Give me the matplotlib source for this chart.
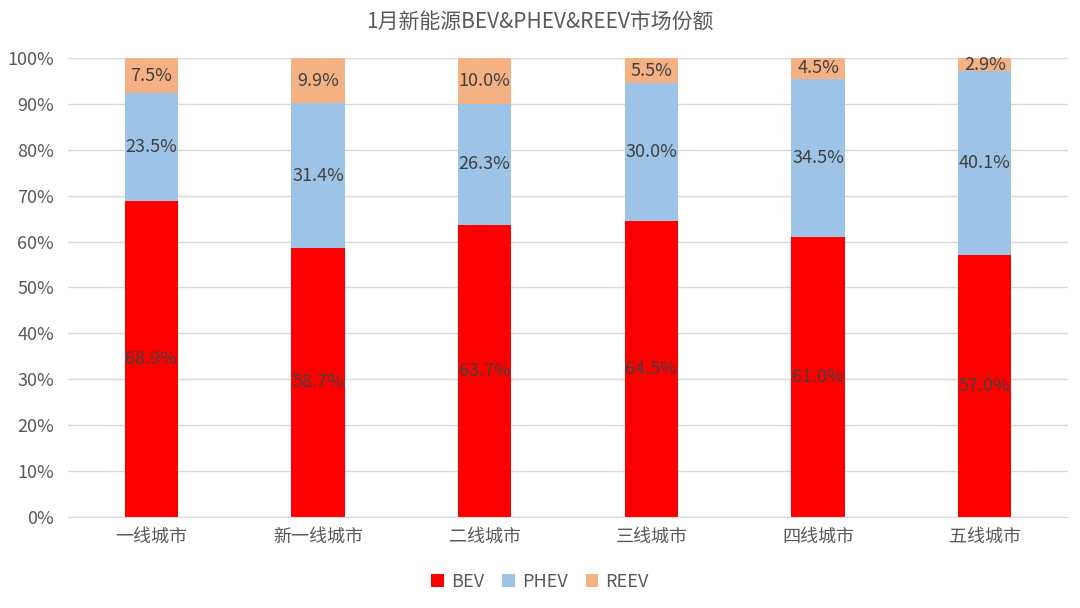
import numpy as np
import matplotlib.pyplot as plt

plt.rcParams['font.family'] = ['Noto Sans CJK SC', 'DejaVu Sans']

cities = ["一线城市", "新一线城市", "二线城市", "三线城市", "四线城市", "五线城市"]
bev = [68.9, 58.7, 63.7, 64.5, 61.0, 57.0]
phev = [23.5, 31.4, 26.3, 30.0, 34.5, 40.1]
reev = [7.5, 9.9, 10.0, 5.5, 4.5, 2.9]

colors = {"BEV": "#FF0000", "PHEV": "#9DC3E6", "REEV": "#F4B183"}

fig = plt.figure(figsize=(10.8, 6.08), dpi=100)
ax = fig.add_axes([0.063, 0.1497, 0.926, 0.7549])

x = np.arange(len(cities))
w = 0.32
bottom = np.zeros(len(cities))
for name, vals in [("BEV", bev), ("PHEV", phev), ("REEV", reev)]:
    vals = np.array(vals)
    bars = ax.bar(x, vals, w, bottom=bottom, color=colors[name], label=name, zorder=2)
    for xi, b, v in zip(x, bottom, vals):
        ax.text(xi, b + v / 2, f"{v:.1f}%", ha="center", va="center",
                fontsize=13, color="#404040", zorder=3)
    bottom += vals

ax.set_xlim(-0.5, len(cities) - 0.5)
ax.set_ylim(0, 100)
ax.set_yticks(np.arange(0, 101, 10))
ax.set_yticklabels([f"{v}%" for v in range(0, 101, 10)])
ax.set_xticks(x)
ax.set_xticklabels(cities)
ax.tick_params(axis="both", length=0, labelsize=13, labelcolor="#595959")
ax.tick_params(axis="y", pad=10)
ax.tick_params(axis="x", pad=8)
ax.grid(axis="y", color="#D9D9D9", linewidth=1, zorder=0)
for s in ["top", "right", "left"]:
    ax.spines[s].set_visible(False)
ax.spines["bottom"].set_color("#D9D9D9")

fig.text(0.5, 0.963, "1月新能源BEV&PHEV&REEV市场份额", ha="center", va="center",
         fontsize=15, color="#595959")
fig.legend(loc="center", bbox_to_anchor=(0.5, 0.043), ncol=3, frameon=False,
           fontsize=13, labelcolor="#595959", handlelength=0.7, handleheight=0.7,
           handletextpad=0.4, columnspacing=1.0)

plt.savefig("out.png", dpi=100)
plt.close()
